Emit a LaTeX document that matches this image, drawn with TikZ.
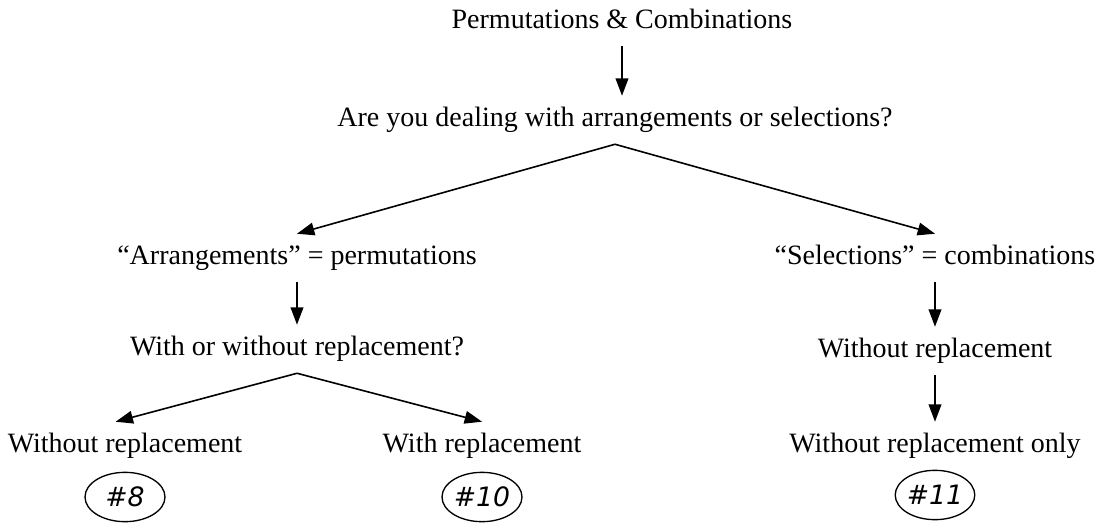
\documentclass[tikz,border=0pt]{standalone}
\usepackage{fontspec}
\setmainfont{Liberation Serif}
\newfontfamily\numfont{DejaVu Sans}
\usetikzlibrary{arrows.meta}
\usetikzlibrary{shapes.geometric}
\tikzset{txt/.style={font=\fontsize{21}{25}\selectfont,inner xsep=0pt,inner ysep=9pt,text height=14pt,text depth=4pt}}
\tikzset{line/.style={black,line width=1.2pt,-{Triangle[length=13pt,width=9.5pt]}}}
\tikzset{num/.style={draw,ellipse,line width=1pt,inner sep=0pt,minimum width=60pt,minimum height=37pt,font=\numfont\itshape\fontsize{20}{22}\selectfont}}

\begin{document}
\begin{tikzpicture}[x=0.75pt,y=-0.75pt]
  \useasboundingbox (0,0) rectangle (1099,525);
  % Question nodes
  \node[txt] (pc) at (622,22) {Permutations \& Combinations};
  \node[txt] (q) at (615,120) {Are you dealing with arrangements or selections?};
  \node[txt] (arr) at (297,258) {``Arrangements'' = permutations};
  \node[txt] (sel) at (935,258) {``Selections'' = combinations};
  \node[txt] (wq) at (297,349) {With or without replacement?};
  \node[txt] (swo) at (935,351) {Without replacement};
  \node[txt] (wo) at (125,446) {Without replacement};
  \node[txt] (wr) at (482,446) {With replacement};
  \node[txt] (swoo) at (935,446) {Without replacement only};

  % Problem numbers
  \node[num] (n8) at (125,497) {\#8};
  \node[num] (n10) at (482,497) {\#10};
  \node[num,minimum width=56pt] (n11) at (935,495) {\#11};

  % Arrows
  \draw[line] (pc.south) -- (pc.south |- q.north);
  \draw[line] (q.south) -- (arr.north);
  \draw[line] (q.south) -- (sel.north);
  \draw[line] (arr.south) -- (wq.north);
  \draw[line] (sel.south) -- (swo.north);
  \draw[line] (swo.south) -- (swoo.north);
  \draw[line] (wq.south) -- ([xshift=-7pt]wo.north);
  \draw[line] (wq.south) -- (wr.north);
\end{tikzpicture}
\end{document}
